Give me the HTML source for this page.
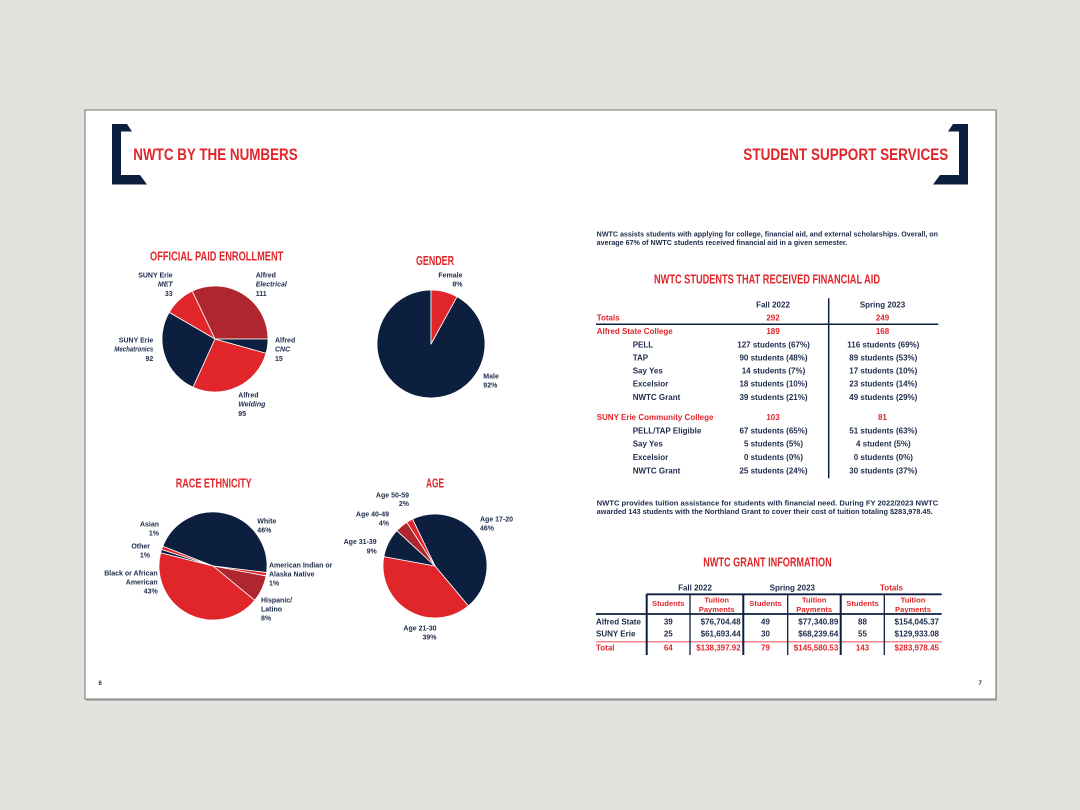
<!DOCTYPE html>
<html>
<head>
<meta charset="utf-8">
<style>
  html,body{margin:0;padding:0;background:#e3e2df;}
  svg{display:block;}
  text{font-family:"Liberation Sans", sans-serif;}
  .h{font-weight:bold;fill:#e1262b;}
  .l{font-weight:bold;font-size:7px;fill:#1d2b4b;}
  .li{font-weight:bold;font-style:italic;font-size:7px;fill:#1d2b4b;}
  .t{font-weight:bold;font-size:8px;fill:#1d2b4b;}
  .tr{font-weight:bold;font-size:8px;fill:#e1262b;}
  .p{font-weight:bold;font-size:7px;fill:#1d2b4b;}
  .g{font-weight:bold;font-size:7.6px;fill:#1d2b4b;}
  .gr{font-weight:bold;font-size:7.6px;fill:#e1262b;}
</style>
</head>
<body>
<svg width="1080" height="810" viewBox="0 0 1080 810" xmlns="http://www.w3.org/2000/svg">
  <rect x="0" y="0" width="1080" height="810" fill="#e3e2df"/>
  <!-- page shadow + page -->
  <rect x="86" y="111" width="911" height="590" fill="#b9b8b5"/>
  <rect x="85" y="110" width="911" height="589" fill="#ffffff" stroke="#737373" stroke-width="1"/>

  <!-- brackets -->
  <polygon points="112,124 127,124 132,131.5 121,131.5 121,175 140,175 147,184.5 112,184.5" fill="#0c1f3f"/>
  <polygon points="968,124 953,124 948,131.5 959,131.5 959,175 940,175 933,184.5 968,184.5" fill="#0c1f3f"/>

  <!-- main headings -->
  <text class="h" x="133.3" y="160" font-size="17" textLength="164.4" lengthAdjust="spacingAndGlyphs">NWTC BY THE NUMBERS</text>
  <text class="h" x="743.3" y="160" font-size="17" textLength="205" lengthAdjust="spacingAndGlyphs">STUDENT SUPPORT SERVICES</text>

  <!-- ============ ENROLLMENT ============ -->
  <text class="h" x="150" y="260.7" font-size="12.5" textLength="133.3" lengthAdjust="spacingAndGlyphs">OFFICIAL PAID ENROLLMENT</text>
  <g stroke="#ffffff" stroke-width="0.8" stroke-linejoin="round">
    <path d="M215,339 L268,339 A53,53 0 0 0 192.19,291.16 Z" fill="#b0262f"/>
    <path d="M215,339 L192.19,291.16 A53,53 0 0 0 169.18,312.37 Z" fill="#e1262b"/>
    <path d="M215,339 L169.18,312.37 A53,53 0 0 0 193.06,387.25 Z" fill="#0c1f3f"/>
    <path d="M215,339 L193.06,387.25 A53,53 0 0 0 266.04,353.26 Z" fill="#e1262b"/>
    <path d="M215,339 L266.04,353.26 A53,53 0 0 0 268,339 Z" fill="#0c1f3f"/>
  </g>
  <text class="l" x="172.7" y="277.3" text-anchor="end">SUNY Erie</text>
  <text class="li" x="172.7" y="286.7" text-anchor="end">MET</text>
  <text class="l" x="172.7" y="296" text-anchor="end">33</text>
  <text class="l" x="255.7" y="277.3">Alfred</text>
  <text class="li" x="255.7" y="286.7">Electrical</text>
  <text class="l" x="255.7" y="296">111</text>
  <text class="l" x="153.3" y="342.3" text-anchor="end">SUNY Erie</text>
  <text class="li" x="153.3" y="351.7" text-anchor="end" textLength="39" lengthAdjust="spacingAndGlyphs">Mechatronics</text>
  <text class="l" x="153.3" y="361" text-anchor="end">92</text>
  <text class="l" x="275" y="342.3">Alfred</text>
  <text class="li" x="275" y="351.7">CNC</text>
  <text class="l" x="275" y="361">15</text>
  <text class="l" x="238.3" y="397.3">Alfred</text>
  <text class="li" x="238.3" y="406.7">Welding</text>
  <text class="l" x="238.3" y="416">95</text>

  <!-- ============ GENDER ============ -->
  <text class="h" x="416" y="265" font-size="12.5" textLength="38" lengthAdjust="spacingAndGlyphs">GENDER</text>
  <g stroke="#ffffff" stroke-width="0.8" stroke-linejoin="round">
    <path d="M431,344 L457.02,296.68 A54,54 0 1 1 431,290 Z" fill="#0c1f3f"/>
    <path d="M431,344 L431,290 A54,54 0 0 1 457.02,296.68 Z" fill="#e1262b"/>
  </g>
  <text class="l" x="462.5" y="277.7" text-anchor="end">Female</text>
  <text class="l" x="462.5" y="286.7" text-anchor="end">8%</text>
  <text class="l" x="483.3" y="378.3">Male</text>
  <text class="l" x="483.3" y="387.7">92%</text>

  <!-- ============ RACE ============ -->
  <text class="h" x="175.7" y="487.3" font-size="12.5" textLength="76" lengthAdjust="spacingAndGlyphs">RACE ETHNICITY</text>
  <g stroke="#ffffff" stroke-width="0.8" stroke-linejoin="round">
    <path d="M213,566 L162.72,546.30 A54,54 0 0 1 266.60,572.58 Z" fill="#0c1f3f"/>
    <path d="M213,566 L266.60,572.58 A54,54 0 0 1 266.08,575.93 Z" fill="#e1262b"/>
    <path d="M213,566 L266.08,575.93 A54,54 0 0 1 254.73,600.27 Z" fill="#b0262f"/>
    <path d="M213,566 L254.73,600.27 A54,54 0 0 1 160.65,552.75 Z" fill="#e1262b"/>
    <path d="M213,566 L160.65,552.75 A54,54 0 0 1 161.59,549.49 Z" fill="#0c1f3f"/>
    <path d="M213,566 L161.59,549.49 A54,54 0 0 1 162.72,546.30 Z" fill="#e1262b"/>
  </g>
  <text class="l" x="257.3" y="523.3">White</text>
  <text class="l" x="257.3" y="532.3">46%</text>
  <text class="l" x="159" y="526.7" text-anchor="end">Asian</text>
  <text class="l" x="159" y="535.7" text-anchor="end">1%</text>
  <text class="l" x="150" y="548.7" text-anchor="end">Other</text>
  <text class="l" x="150" y="557.7" text-anchor="end">1%</text>
  <text class="l" x="157.7" y="575.7" text-anchor="end">Black or African</text>
  <text class="l" x="157.7" y="584.3" text-anchor="end">American</text>
  <text class="l" x="157.7" y="593.3" text-anchor="end">43%</text>
  <text class="l" x="269" y="567.7">American Indian or</text>
  <text class="l" x="269" y="576.7">Alaska Native</text>
  <text class="l" x="269" y="585.5">1%</text>
  <text class="l" x="261" y="602.7">Hispanic/</text>
  <text class="l" x="261" y="611.7">Latino</text>
  <text class="l" x="261" y="620.5">8%</text>

  <!-- ============ AGE ============ -->
  <text class="h" x="426" y="487.3" font-size="12.5" textLength="18" lengthAdjust="spacingAndGlyphs">AGE</text>
  <g stroke="#ffffff" stroke-width="0.8" stroke-linejoin="round">
    <path d="M435,566 L412.53,519.11 A52,52 0 0 1 468.42,605.83 Z" fill="#0c1f3f"/>
    <path d="M435,566 L468.42,605.83 A52,52 0 0 1 383.85,556.61 Z" fill="#e1262b"/>
    <path d="M435,566 L383.85,556.61 A52,52 0 0 1 396.85,530.67 Z" fill="#0c1f3f"/>
    <path d="M435,566 L396.85,530.67 A52,52 0 0 1 406.80,522.30 Z" fill="#b0262f"/>
    <path d="M435,566 L406.80,522.30 A52,52 0 0 1 412.53,519.11 Z" fill="#e1262b"/>
  </g>
  <text class="l" x="409" y="497.3" text-anchor="end">Age 50-59</text>
  <text class="l" x="409" y="506" text-anchor="end">2%</text>
  <text class="l" x="389" y="516.7" text-anchor="end">Age 40-49</text>
  <text class="l" x="389" y="525.7" text-anchor="end">4%</text>
  <text class="l" x="376.7" y="544" text-anchor="end">Age 31-39</text>
  <text class="l" x="376.7" y="553.3" text-anchor="end">9%</text>
  <text class="l" x="480" y="521.7">Age 17-20</text>
  <text class="l" x="480" y="530.5">46%</text>
  <text class="l" x="436.5" y="630.7" text-anchor="end">Age 21-30</text>
  <text class="l" x="436.5" y="639.3" text-anchor="end">39%</text>

  <!-- page numbers -->
  <text x="98.5" y="685" font-size="6" font-weight="bold" fill="#1d2b4b">6</text>
  <text x="978.5" y="685" font-size="6" font-weight="bold" fill="#1d2b4b">7</text>

  <!-- ============ RIGHT PAGE ============ -->
  <text class="p" x="596.7" y="236.7" textLength="341.3" lengthAdjust="spacingAndGlyphs">NWTC assists students with applying for college, financial aid, and external scholarships. Overall, on</text>
  <text class="p" x="596.7" y="245" textLength="250.6" lengthAdjust="spacingAndGlyphs">average 67% of NWTC students received financial aid in a given semester.</text>

  <text class="h" x="654" y="283.3" font-size="12.5" textLength="226" lengthAdjust="spacingAndGlyphs">NWTC STUDENTS THAT RECEIVED FINANCIAL AID</text>

  <line x1="828.7" y1="298.3" x2="828.7" y2="478.3" stroke="#0c1f3f" stroke-width="1.5"/>
  <line x1="596" y1="324.3" x2="938.3" y2="324.3" stroke="#0c1f3f" stroke-width="1.5"/>

  <text class="t" x="773" y="307.7" text-anchor="middle">Fall 2022</text>
  <text class="t" x="882.5" y="307.7" text-anchor="middle">Spring 2023</text>
  <text class="tr" x="596.7" y="320.7">Totals</text>
  <text class="tr" x="773" y="320.7" text-anchor="middle">292</text>
  <text class="tr" x="882.5" y="320.7" text-anchor="middle">249</text>

  <text class="tr" x="596.7" y="334">Alfred State College</text>
  <text class="tr" x="773" y="334" text-anchor="middle">189</text>
  <text class="tr" x="882.5" y="334" text-anchor="middle">168</text>

  <text class="t" x="632.7" y="347.3">PELL</text>
  <text class="t" x="773.5" y="347.3" text-anchor="middle">127 students (67%)</text>
  <text class="t" x="883.3" y="347.3" text-anchor="middle">116 students (69%)</text>
  <text class="t" x="632.7" y="360.7">TAP</text>
  <text class="t" x="773.5" y="360.7" text-anchor="middle">90 students (48%)</text>
  <text class="t" x="883.3" y="360.7" text-anchor="middle">89 students (53%)</text>
  <text class="t" x="632.7" y="373.3">Say Yes</text>
  <text class="t" x="773.5" y="373.3" text-anchor="middle">14 students (7%)</text>
  <text class="t" x="883.3" y="373.3" text-anchor="middle">17 students (10%)</text>
  <text class="t" x="632.7" y="386.7">Excelsior</text>
  <text class="t" x="773.5" y="386.7" text-anchor="middle">18 students (10%)</text>
  <text class="t" x="883.3" y="386.7" text-anchor="middle">23 students (14%)</text>
  <text class="t" x="632.7" y="400">NWTC Grant</text>
  <text class="t" x="773.5" y="400" text-anchor="middle">39 students (21%)</text>
  <text class="t" x="883.3" y="400" text-anchor="middle">49 students (29%)</text>

  <text class="tr" x="596.7" y="420">SUNY Erie Community College</text>
  <text class="tr" x="773" y="420" text-anchor="middle">103</text>
  <text class="tr" x="882.5" y="420" text-anchor="middle">81</text>

  <text class="t" x="632.7" y="433.3">PELL/TAP Eligible</text>
  <text class="t" x="773.5" y="433.3" text-anchor="middle">67 students (65%)</text>
  <text class="t" x="883.3" y="433.3" text-anchor="middle">51 students (63%)</text>
  <text class="t" x="632.7" y="446.7">Say Yes</text>
  <text class="t" x="773.5" y="446.7" text-anchor="middle">5 students (5%)</text>
  <text class="t" x="883.3" y="446.7" text-anchor="middle">4 student (5%)</text>
  <text class="t" x="632.7" y="460">Excelsior</text>
  <text class="t" x="773.5" y="460" text-anchor="middle">0 students (0%)</text>
  <text class="t" x="883.3" y="460" text-anchor="middle">0 students (0%)</text>
  <text class="t" x="632.7" y="473.3">NWTC Grant</text>
  <text class="t" x="773.5" y="473.3" text-anchor="middle">25 students (24%)</text>
  <text class="t" x="883.3" y="473.3" text-anchor="middle">30 students (37%)</text>

  <text class="p" x="596.7" y="505.3" textLength="341.6" lengthAdjust="spacingAndGlyphs">NWTC provides tuition assistance for students with financial need. During FY 2022/2023 NWTC</text>
  <text class="p" x="596.7" y="514" textLength="336" lengthAdjust="spacingAndGlyphs">awarded 143 students with the Northland Grant to cover their cost of tuition totaling $283,978.45.</text>

  <text class="h" x="703.3" y="566.7" font-size="12.5" textLength="128.4" lengthAdjust="spacingAndGlyphs">NWTC GRANT INFORMATION</text>

  <!-- grant table -->
  <text class="t" x="695" y="590.7" text-anchor="middle">Fall 2022</text>
  <text class="t" x="792.3" y="590.7" text-anchor="middle">Spring 2023</text>
  <text class="tr" x="891.5" y="590.7" text-anchor="middle">Totals</text>

  <line x1="646.7" y1="594.3" x2="941.7" y2="594.3" stroke="#0c1f3f" stroke-width="1.8"/>
  <line x1="596" y1="614" x2="941.7" y2="614" stroke="#0c1f3f" stroke-width="1.8"/>
  <line x1="596" y1="641.7" x2="941.7" y2="641.7" stroke="#ef8b8e" stroke-width="1.5"/>
  <g stroke="#0c1f3f">
    <line x1="646.7" y1="594" x2="646.7" y2="655" stroke-width="2"/>
    <line x1="690" y1="594" x2="690" y2="655" stroke-width="1.3"/>
    <line x1="743.3" y1="594" x2="743.3" y2="655" stroke-width="2"/>
    <line x1="787.7" y1="594" x2="787.7" y2="655" stroke-width="1.3"/>
    <line x1="840.7" y1="594" x2="840.7" y2="655" stroke-width="2"/>
    <line x1="884.3" y1="594" x2="884.3" y2="655" stroke-width="1.3"/>
  </g>

  <text class="gr" x="668.3" y="606" text-anchor="middle">Students</text>
  <text class="gr" x="716.7" y="602.3" text-anchor="middle">Tuition</text>
  <text class="gr" x="716.7" y="612" text-anchor="middle">Payments</text>
  <text class="gr" x="765.5" y="606" text-anchor="middle">Students</text>
  <text class="gr" x="814.2" y="602.3" text-anchor="middle">Tuition</text>
  <text class="gr" x="814.2" y="612" text-anchor="middle">Payments</text>
  <text class="gr" x="862.5" y="606" text-anchor="middle">Students</text>
  <text class="gr" x="913" y="602.3" text-anchor="middle">Tuition</text>
  <text class="gr" x="913" y="612" text-anchor="middle">Payments</text>

  <text class="t" x="596" y="624.3">Alfred State</text>
  <text class="t" x="668.3" y="624.3" text-anchor="middle">39</text>
  <text class="t" x="740.7" y="624.3" text-anchor="end">$76,704.48</text>
  <text class="t" x="765.5" y="624.3" text-anchor="middle">49</text>
  <text class="t" x="838.3" y="624.3" text-anchor="end">$77,340.89</text>
  <text class="t" x="862.5" y="624.3" text-anchor="middle">88</text>
  <text class="t" x="939" y="624.3" text-anchor="end">$154,045.37</text>

  <text class="t" x="596" y="636.7">SUNY Erie</text>
  <text class="t" x="668.3" y="636.7" text-anchor="middle">25</text>
  <text class="t" x="740.7" y="636.7" text-anchor="end">$61,693.44</text>
  <text class="t" x="765.5" y="636.7" text-anchor="middle">30</text>
  <text class="t" x="838.3" y="636.7" text-anchor="end">$68,239.64</text>
  <text class="t" x="862.5" y="636.7" text-anchor="middle">55</text>
  <text class="t" x="939" y="636.7" text-anchor="end">$129,933.08</text>

  <text class="tr" x="596" y="650.7">Total</text>
  <text class="tr" x="668.3" y="650.7" text-anchor="middle">64</text>
  <text class="tr" x="740.7" y="650.7" text-anchor="end">$138,397.92</text>
  <text class="tr" x="765.5" y="650.7" text-anchor="middle">79</text>
  <text class="tr" x="838.3" y="650.7" text-anchor="end">$145,580.53</text>
  <text class="tr" x="862.5" y="650.7" text-anchor="middle">143</text>
  <text class="tr" x="939" y="650.7" text-anchor="end">$283,978.45</text>
</svg>
</body>
</html>
